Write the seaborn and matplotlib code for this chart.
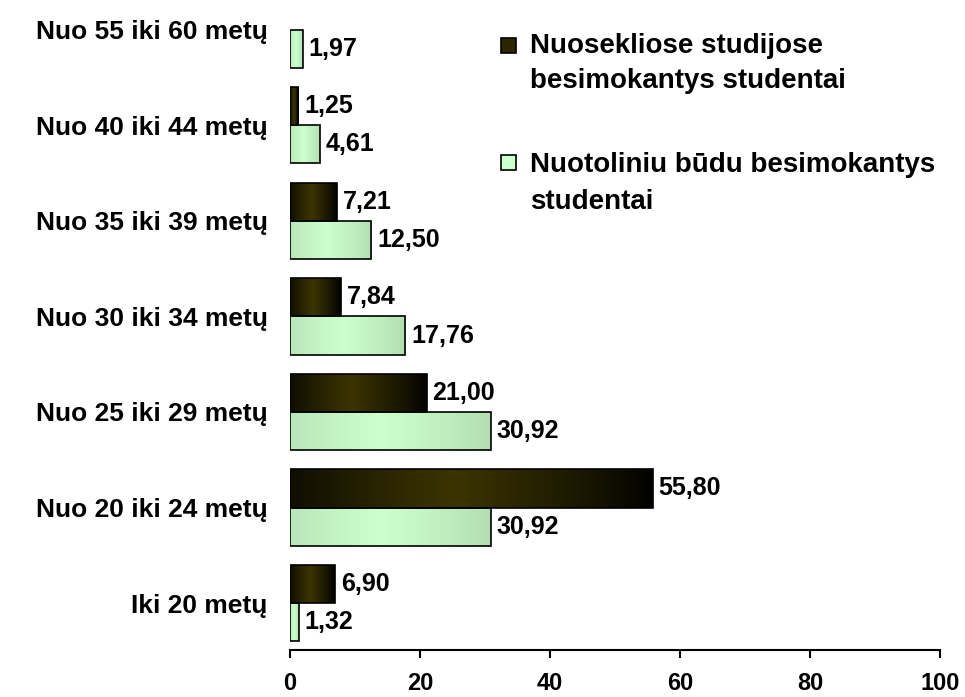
import numpy as np
import pandas as pd
import matplotlib
matplotlib.use('Agg')
import matplotlib.pyplot as plt
import seaborn as sns
from matplotlib.patches import Rectangle

# age groups, top to bottom as drawn
age_groups = ['Nuo 55 iki 60 metų', 'Nuo 40 iki 44 metų', 'Nuo 35 iki 39 metų',
              'Nuo 30 iki 34 metų', 'Nuo 25 iki 29 metų', 'Nuo 20 iki 24 metų',
              'Iki 20 metų']
series_names = ['Nuosekliose studijose\nbesimokantys studentai',
                'Nuotoliniu būdu besimokantys\nstudentai']
nuoseklios = [np.nan, 1.25, 7.21, 7.84, 21.00, 55.80, 6.90]
nuotolines = [1.97, 4.61, 12.50, 17.76, 30.92, 30.92, 1.32]
x_ticks = [0, 20, 40, 60, 80, 100]

sns.set_style('white')
plt.rcParams['font.family'] = ['Liberation Sans', 'DejaVu Sans']
plt.rcParams['font.weight'] = 'bold'
plt.rcParams['text.color'] = 'black'
plt.rcParams['xtick.labelcolor'] = 'black'
plt.rcParams['ytick.labelcolor'] = 'black'

df = pd.DataFrame({
    'grupe': age_groups * 2,
    'reiksme': nuoseklios + nuotolines,
    'serija': [series_names[0]] * len(age_groups) + [series_names[1]] * len(age_groups),
})
df = df.dropna()

# gradient colours (edge -> centre)
grad_cols = [('#000000', '#3b3400'), ('#b2ddb2', '#ccffcc')]
solid_cols = ['#2b2600', '#ccffcc']

W, H = 965, 697
fig = plt.figure(figsize=(W / 100, H / 100), dpi=100)
ax = fig.add_axes([290 / W, 47 / H, 650 / W, 650 / H])

sns.barplot(data=df, x='reiksme', y='grupe', hue='serija', order=age_groups,
            hue_order=series_names, palette=solid_cols, orient='h',
            width=0.8, edgecolor='black', linewidth=1.2, ax=ax, legend=False)


def gradient_img(c_edge, c_mid, n=256):
    e = np.array(matplotlib.colors.to_rgb(c_edge))
    m = np.array(matplotlib.colors.to_rgb(c_mid))
    t = np.linspace(0, 1, n)
    w = np.clip(1 - np.abs(t - 0.45) / 0.55, 0, 1) ** 0.8
    row = e[None, :] * (1 - w[:, None]) + m[None, :] * w[:, None]
    return row[None, :, :]


for cont, (ce, cm) in zip(ax.containers, grad_cols):
    img = gradient_img(ce, cm)
    for bar in cont:
        if bar is None:
            continue
        w = bar.get_width()
        if not np.isfinite(w) or w <= 0:
            continue
        x0, y0 = bar.get_x(), bar.get_y()
        h = bar.get_height()
        bar.set_facecolor('none')
        bar.set_zorder(3)
        im = ax.imshow(img, extent=[x0, x0 + w, y0 + h, y0], aspect='auto',
                       interpolation='bicubic', zorder=2)
        im.set_clip_path(bar)
        ax.text(x0 + w + 0.9, y0 + h / 2, f'{w:.2f}'.replace('.', ','),
                ha='left', va='center', fontsize=18, fontweight='bold')

ax.set_xlim(0, 100)
ax.set_ylim(6.49, -0.31)
ax.set_xticks(x_ticks)
ax.set_xlabel('')
ax.set_ylabel('')
ax.tick_params(axis='x', direction='out', length=6, width=1.5, pad=10, labelsize=17,
               bottom=True, color='black')
ax.tick_params(axis='y', length=0, pad=16, labelsize=19)
for lab in ax.get_xticklabels() + ax.get_yticklabels():
    lab.set_fontweight('bold')
sns.despine(ax=ax, left=True, top=True, right=True)
ax.spines['bottom'].set_linewidth(1.5)
ax.spines['bottom'].set_color('black')

# legend drawn by hand: square beside the first line of each two-line label
leg_square_top = [38, 155]
leg_baselines = [[53, 88], [172, 209]]
for name, col, sq_top, bases in zip(series_names, solid_cols, leg_square_top, leg_baselines):
    fig.add_artist(Rectangle((501 / W, 1 - (sq_top + 15) / H), 15 / W, 15 / H,
                             transform=fig.transFigure, facecolor=col,
                             edgecolor='black', linewidth=1.2))
    for line, b in zip(name.split('\n'), bases):
        fig.text(530 / W, 1 - b / H, line, ha='left', va='baseline',
                 fontsize=20, fontweight='bold')

fig.savefig('out.png', dpi=100)
